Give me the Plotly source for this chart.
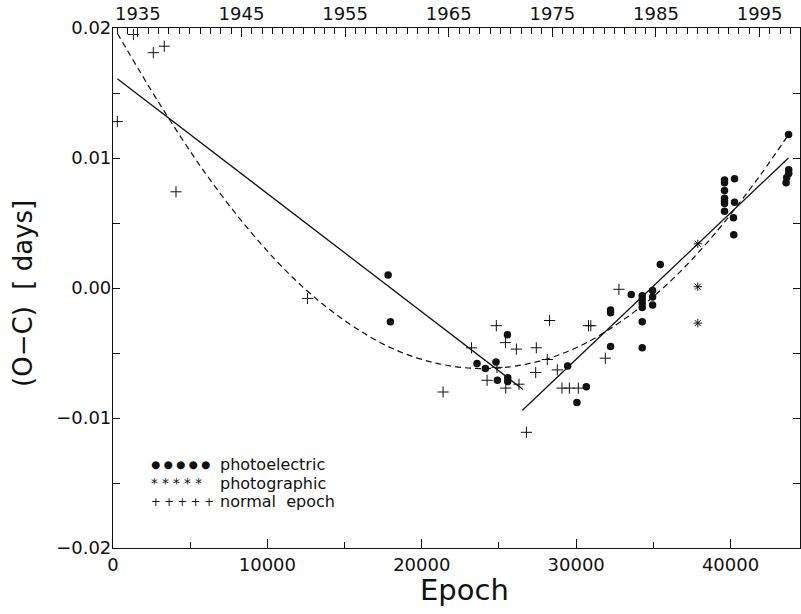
import plotly.graph_objects as go

# ---- data ----
pe_epoch = [17820, 17970, 23580, 24120, 24810, 24900, 25550, 25570, 25570,
            29450, 30050, 30660, 32230, 32230, 32230, 33570,
            34280, 34280, 34280, 34280, 34280, 34280,
            34950, 34950, 34950, 35450,
            39610, 39610, 39610, 39610, 39610, 39610, 39610,
            40260, 40260, 40190, 40210,
            43760, 43770, 43770, 43640, 43600]
pe_oc = [0.0010, -0.0026, -0.0058, -0.0062, -0.0057, -0.0071, -0.0036, -0.0069, -0.0072,
         -0.0060, -0.0088, -0.0076, -0.0017, -0.0019, -0.0045, -0.0005,
         -0.0006, -0.0009, -0.0012, -0.0015, -0.0026, -0.0046,
         -0.0002, -0.0007, -0.0013, 0.0018,
         0.0083, 0.0081, 0.0075, 0.0069, 0.0067, 0.0065, 0.0059,
         0.0084, 0.0066, 0.0054, 0.0041,
         0.0118, 0.0091, 0.0088, 0.0085, 0.0081]

pg_epoch = [37880, 37880, 37880]
pg_oc = [0.0034, 0.0001, -0.0027]

ne_epoch = [280, 1320, 2610, 3320, 4080, 12600, 21380, 23220, 24230, 24830,
            24870, 25420, 25440, 26130, 26300, 26780, 27380, 27420, 28130, 28280,
            28780, 29080, 29560, 30140, 30800, 30950, 31890, 32770]
ne_oc = [0.0128, 0.0195, 0.0181, 0.0186, 0.0074, -0.0008, -0.0080, -0.0046, -0.0071, -0.0029,
         -0.0061, -0.0042, -0.0077, -0.0047, -0.0074, -0.0111, -0.0065, -0.0046, -0.0055, -0.0025,
         -0.0063, -0.0077, -0.0077, -0.0077, -0.0029, -0.0029, -0.0054, -0.0001]

fit1_epoch = [280, 26560]
fit1_oc = [0.0161, -0.0078]
fit2_epoch = [26520, 43750]
fit2_oc = [-0.0094, 0.0100]

quad_epoch = [280, 3000, 6000, 9000, 12000, 15000, 18000, 21000, 24000,
              27000, 30000, 33000, 36000, 39000, 42000, 43750]
quad_oc = [0.0196, 0.0142, 0.0088, 0.0042, 0.0004, -0.0025, -0.0046, -0.0058, -0.0062,
           -0.0058, -0.0046, -0.0025, 0.0004, 0.0042, 0.0088, 0.0118]

x_range = [0, 44500]
y_range = [-0.02, 0.02]
year_range = [1932.6, 1998.9]
x_tickvals = [0, 10000, 20000, 30000, 40000]
x_ticktext = ["0", "10000", "20000", "30000", "40000"]
y_tickvals = [-0.02, -0.01, 0.0, 0.01, 0.02]
y_ticktext = ["\u22120.02", "\u22120.01", "0.00", "0.01", "0.02"]
year_tickvals = [1935, 1945, 1955, 1965, 1975, 1985, 1995]
year_ticktext = ["1935", "1945", "1955", "1965", "1975", "1985", "1995"]

legend_labels = ["photoelectric", "photographic", "normal  epoch"]
legend_symbols = ["\u25cf \u25cf \u25cf \u25cf \u25cf", "* * * * *", "+ + + + +"]
legend_symbol_sizes = [10.5, 13.5, 11.5]

FONT = "DejaVu Sans"
INK = "#111111"

fig = go.Figure()

fig.add_trace(go.Scatter(x=quad_epoch, y=quad_oc, mode="lines",
                         line=dict(color=INK, width=1.2, dash="6px,4px", shape="spline"),
                         showlegend=False, hoverinfo="skip"))
fig.add_trace(go.Scatter(x=fit1_epoch, y=fit1_oc, mode="lines",
                         line=dict(color=INK, width=1.3), showlegend=False, hoverinfo="skip"))
fig.add_trace(go.Scatter(x=fit2_epoch, y=fit2_oc, mode="lines",
                         line=dict(color=INK, width=1.3), showlegend=False, hoverinfo="skip"))
fig.add_trace(go.Scatter(x=pe_epoch, y=pe_oc, mode="markers", name="photoelectric",
                         marker=dict(symbol="circle", size=7.5, color=INK, line=dict(width=0)),
                         showlegend=False))
fig.add_trace(go.Scatter(x=pg_epoch, y=pg_oc, mode="markers", name="photographic",
                         marker=dict(symbol="asterisk-open", size=7, color=INK,
                                     line=dict(width=1, color=INK)),
                         showlegend=False))
fig.add_trace(go.Scatter(x=ne_epoch, y=ne_oc, mode="markers", name="normal epoch",
                         marker=dict(symbol="cross-thin-open", size=8, color=INK,
                                     line=dict(width=1, color=INK)),
                         showlegend=False))
# invisible trace to anchor the top (year) axis
fig.add_trace(go.Scatter(x=year_range, y=[0, 0], xaxis="x2", mode="markers",
                         marker=dict(opacity=0), showlegend=False, hoverinfo="skip"))

tickfont = dict(family=FONT, size=18, color=INK)

fig.update_layout(
    width=801, height=614,
    margin=dict(l=113, r=1, t=28, b=66, autoexpand=False),
    paper_bgcolor="white", plot_bgcolor="white",
    font=dict(family=FONT, color=INK),
    xaxis=dict(range=x_range, tickvals=x_tickvals, ticktext=x_ticktext, ticks="inside",
               ticklen=9, tickwidth=1, tickcolor=INK, showline=True, linecolor=INK,
               linewidth=1.2, mirror=True, showgrid=False, zeroline=False, tickfont=tickfont,
               automargin=False,
               minor=dict(dtick=5000, tick0=0, ticks="inside", ticklen=6, tickcolor=INK,
                          showgrid=False)),
    xaxis2=dict(range=year_range, overlaying="x", side="top", tickvals=year_tickvals,
                ticktext=year_ticktext, ticks="inside", ticklen=9, tickwidth=1,
                tickcolor=INK, showline=True, linecolor=INK, linewidth=1.2, showgrid=False,
                zeroline=False, tickfont=tickfont, automargin=False,
                minor=dict(dtick=1, tick0=1935, ticks="inside", ticklen=6, tickcolor=INK,
                           tickwidth=1, showgrid=False)),
    yaxis=dict(range=y_range, tickvals=y_tickvals, ticktext=y_ticktext, ticks="inside",
               ticklen=7, tickwidth=1, tickcolor=INK, showline=True, linecolor=INK,
               linewidth=1.2, mirror="ticks", showgrid=False, zeroline=False,
               tickfont=tickfont, automargin=False, ticklabelstandoff=-3,
               minor=dict(dtick=0.005, tick0=0, ticks="inside", ticklen=7, tickcolor=INK,
                          showgrid=False)),
)

# axis titles
fig.add_annotation(x=0.512, y=-0.081, xref="paper", yref="paper", text="Epoch",
                   showarrow=False, xanchor="center", yanchor="middle",
                   font=dict(family=FONT, size=29, color=INK))
fig.add_annotation(x=-0.13, y=0.49, xref="paper", yref="paper", text="(O\u2212C)  [ days]",
                   textangle=-90, showarrow=False, xanchor="center", yanchor="middle",
                   font=dict(family=FONT, size=26, color=INK))

rows_y = [0.1615, 0.125, 0.0885]
for sym, ssz, lab, yy in zip(legend_symbols, legend_symbol_sizes, legend_labels, rows_y):
    fig.add_annotation(x=0.0545, y=yy, xref="paper", yref="paper", text=sym,
                       showarrow=False, xanchor="left", yanchor="middle", borderpad=0,
                       font=dict(family=FONT, size=ssz, color=INK))
    fig.add_annotation(x=0.1543, y=yy, xref="paper", yref="paper", text=lab,
                       showarrow=False, xanchor="left", yanchor="middle", borderpad=0,
                       font=dict(family=FONT, size=16, color=INK))

fig.write_html("out.html", config={"displayModeBar": False},
               post_script="document.body.style.margin='0';document.body.style.overflow='hidden';")
